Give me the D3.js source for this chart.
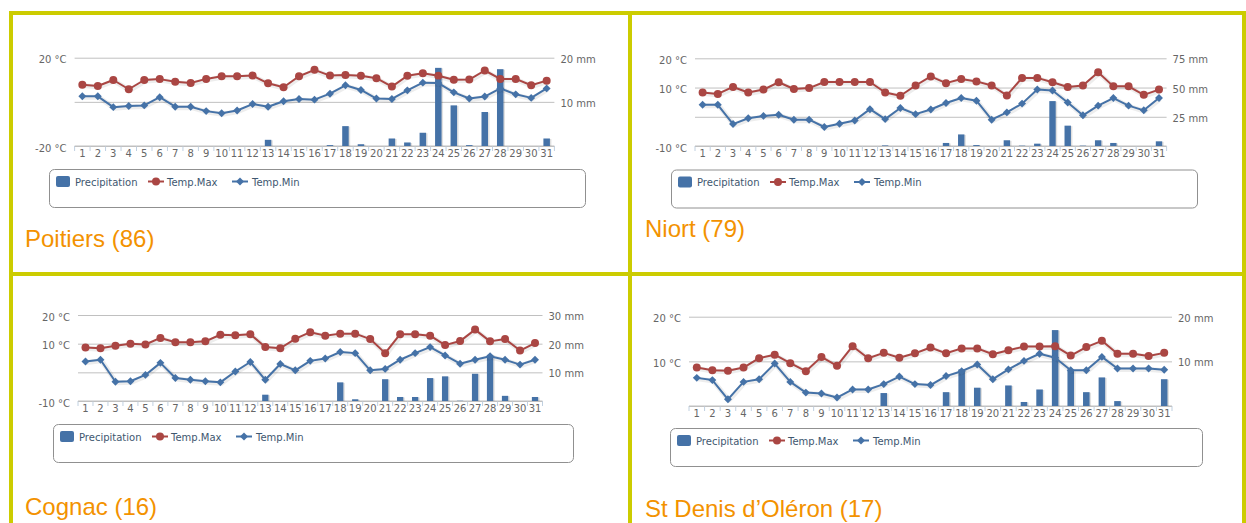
<!DOCTYPE html>
<html><head><meta charset="utf-8">
<script src="https://cdn.jsdelivr.net/npm/d3@7/dist/d3.min.js"></script>
<style>
html,body{margin:0;padding:0;background:#fff;}
svg{display:block;}
text{font-family:"DejaVu Sans",Verdana,sans-serif;}
</style></head><body>
<svg id="c" width="1246" height="523"></svg>
<script>
// ---------- DATA ----------
const days = ["1","2","3","4","5","6","7","8","9","10","11","12","13","14","15","16","17","18","19","20","21","22","23","24","25","26","27","28","29","30","31"];
const seriesNames = ["Precipitation","Temp.Max","Temp.Min"];
const stationNames = ["Poitiers (86)","Niort (79)","Cognac (16)","St Denis d\u2019Oléron (17)"];

const poitiersMax = [7.8,7.2,9.9,5.7,9.9,10.3,9.1,8.5,10.4,11.6,11.6,11.9,8.4,6.6,11.6,14.5,11.9,12.2,11.8,10.7,6.9,11.8,13.0,11.8,10.0,10.1,14.2,10.4,10.4,7.5,9.6];
const poitiersMin = [2.5,2.5,-2.4,-1.9,-1.6,2.1,-2.2,-2.2,-4.2,-5.2,-3.9,-1.0,-2.2,0.3,1.3,1.0,3.7,7.5,5.4,1.5,1.3,5.2,8.7,8.5,4.3,1.5,2.4,6.1,3.4,1.8,6.1];
const poitiersPrecip = [0,0,0,0,0,0,0,0,0,0,0,0,1.4,0,0,0,0.2,4.5,0.4,0,1.7,0.8,3.0,17.7,9.2,0.2,7.7,17.4,0,0,1.7];
const poitiersTempTicks = [-20,0,20];
const poitiersPrecipTicks = [0,10,20];

const niortMax = [8.3,7.8,10.2,8.3,9.3,11.8,9.5,9.8,11.9,11.9,11.9,11.9,8.3,7.2,10.7,13.8,11.5,12.9,12.1,10.7,7.3,13.3,13.3,11.8,10.2,10.7,15.2,10.4,10.4,7.5,9.3];
const niortMin = [4.1,4.1,-2.5,-0.5,0.3,0.7,-1.0,-1.0,-3.5,-2.4,-1.3,2.6,-0.8,3.0,0.9,2.5,4.7,6.4,5.5,-1.0,1.5,4.5,9.3,9.0,4.9,0.5,3.8,6.4,3.8,2.2,6.4];
const niortPrecip = [0,0,0,0,0,0,0,0,0,0,0,0,0.5,0,0,0,2.6,9.9,0.8,0,4.9,0.3,2.0,38.4,17.4,0.3,4.9,2.6,0,0,4.0];
const niortTempTicks = [-10,0,10,20];
const niortPrecipTicks = [0,25,50,75];

const cognacMax = [8.7,8.4,9.3,10.0,9.7,12.0,10.5,10.5,10.8,13.1,12.9,13.3,8.8,8.4,11.7,14.0,12.8,13.5,13.5,11.6,6.7,13.3,13.3,12.8,9.5,10.9,14.9,10.8,11.6,7.6,10.2];
const cognacMin = [3.8,4.4,-3.3,-3.1,-0.9,3.3,-2.0,-2.6,-3.1,-3.5,0.3,3.6,-2.6,2.9,0.7,4.0,4.8,7.1,6.7,0.7,1.2,4.4,6.7,8.8,5.9,3.0,4.4,5.6,4.4,2.7,4.4];
const cognacPrecip = [0,0,0,0,0,0,0,0,0,0,0,0,2.2,0,0,0,0,6.5,0.6,0,7.6,1.4,1.4,8.0,8.6,0.1,9.5,16.1,1.8,0,1.4];
const cognacTempTicks = [-10,0,10,20];
const cognacPrecipTicks = [0,10,20,30];

const stDenisMax = [8.6,8.0,7.9,8.6,10.7,11.5,9.6,7.8,11.0,9.0,13.4,10.7,11.9,10.8,11.8,13.1,11.8,12.9,12.9,11.6,12.5,13.3,13.3,13.4,11.3,13.2,14.6,11.7,11.7,11.2,11.9];
const stDenisMin = [6.3,5.8,1.5,5.4,6.0,9.5,5.4,3.0,2.8,1.9,3.7,3.7,4.9,6.6,4.9,4.7,6.7,7.8,9.3,6.0,8.2,10.1,11.7,10.8,8.0,8.0,11.0,8.4,8.4,8.4,8.1];
const stDenisPrecip = [0,0,0,0,0,0,0,0,0,0,0,0,2.9,0,0,0,3.1,8.2,4.1,0,4.6,0.9,3.7,17.0,7.9,3.1,6.4,1.1,0,0,6.0];
const stDenisTempTicks = [0,10,20];
const stDenisPrecipTicks = [0,10,20];

// ---------- LAYOUT / STYLE ----------
const colors = {bar:"#4572A7", max:"#AA4643", min:"#4572A7", grid:"#C0C0C0", tick:"#C0D0E0",
  label:"#666666", legendText:"#3E576F", title:"#F39200", border:"#CCCC00"};

const panels = [
  {name:stationNames[0], max:poitiersMax, min:poitiersMin, precip:poitiersPrecip, tTicks:poitiersTempTicks, pTicks:poitiersPrecipTicks,
   x0:74.6, x1:554.4, top:57.7, bottom:146, legend:{x:49,y:169,w:536,h:38}, title:{x:25,y:247}},
  {name:stationNames[1], max:niortMax, min:niortMin, precip:niortPrecip, tTicks:niortTempTicks, pTicks:niortPrecipTicks,
   x0:695, x1:1166.6, top:58.3, bottom:146, legend:{x:671,y:169.5,w:526,h:38}, title:{x:645,y:237}},
  {name:stationNames[2], max:cognacMax, min:cognacMin, precip:cognacPrecip, tTicks:cognacTempTicks, pTicks:cognacPrecipTicks,
   x0:78, x1:542.5, top:315, bottom:401, legend:{x:53,y:424,w:520,h:38}, title:{x:25,y:515}},
  {name:stationNames[3], max:stDenisMax, min:stDenisMin, precip:stDenisPrecip, tTicks:stDenisTempTicks, pTicks:stDenisPrecipTicks,
   x0:689, x1:1172, top:316.7, bottom:406, legend:{x:670,y:428,w:532,h:38}, title:{x:645,y:517}}
];

const svg = d3.select("#c");
svg.append("rect").attr("width",1246).attr("height",523).attr("fill","#fff");

const diamond = d3.symbol().type(d3.symbolDiamond2).size(40);

function drawPanel(p){
  const g = svg.append("g");
  const x = d3.scaleBand().domain(days).range([p.x0,p.x1]);
  const cx = d => x(d) + x.bandwidth()/2;
  const yT = d3.scaleLinear().domain(d3.extent(p.tTicks)).range([p.bottom,p.top]);
  const yP = d3.scaleLinear().domain(d3.extent(p.pTicks)).range([p.bottom,p.top]);
  const w = p.x1 - p.x0;

  // left axis + gridlines
  const la = g.append("g").attr("transform",`translate(${p.x0},0)`)
    .call(d3.axisLeft(yT).tickValues(p.tTicks).tickSize(-w).tickPadding(8)
      .tickFormat(d => d === 0 ? "" : d + " °C"));
  la.select(".domain").remove();
  la.selectAll("line").attr("stroke",colors.grid);
  la.selectAll("text").attr("fill",colors.label).attr("font-size","10px").attr("dy","0.5em")
    .style("font-family","'DejaVu Sans',sans-serif");

  // right axis
  const ra = g.append("g").attr("transform",`translate(${p.x1},0)`)
    .call(d3.axisRight(yP).tickValues(p.pTicks).tickSize(0).tickPadding(6)
      .tickFormat(d => d === 0 ? "" : d + " mm"));
  ra.select(".domain").remove();
  ra.selectAll("text").attr("fill",colors.label).attr("font-size","10px").attr("dy","0.45em")
    .style("font-family","'DejaVu Sans',sans-serif");

  // x axis
  const xa = g.append("g").attr("transform",`translate(0,${p.bottom})`)
    .call(d3.axisBottom(x).tickSize(0).tickPadding(3.5));
  xa.select(".domain").remove();
  xa.selectAll("text").attr("fill",colors.label).attr("font-size","10px")
    .style("font-family","'DejaVu Sans',sans-serif");
  g.append("g").selectAll("line").data(days.concat(["end"])).join("line")
    .attr("x1",d => d === "end" ? p.x1 : x(d)).attr("x2",d => d === "end" ? p.x1 : x(d))
    .attr("y1",p.bottom).attr("y2",p.bottom+5).attr("stroke",colors.tick);
  g.append("line").attr("x1",p.x0).attr("x2",p.x1).attr("y1",p.bottom).attr("y2",p.bottom)
    .attr("stroke",colors.grid);

  // columns
  const bw = x.bandwidth()*0.42;
  const bars = g.append("g");
  bars.selectAll("rect.sh").data(days).join("rect").attr("class","sh")
    .attr("x",d => cx(d) - bw/2 + 1.5).attr("width",bw)
    .attr("y",(d,i) => yP(p.precip[i]) + 0.5)
    .attr("height",(d,i) => Math.max(0, p.bottom - yP(p.precip[i]) - 0.5))
    .attr("fill","#000").attr("opacity",0.12);
  bars.selectAll("rect.b").data(days).join("rect").attr("class","b")
    .attr("x",d => cx(d) - bw/2).attr("width",bw)
    .attr("y",(d,i) => yP(p.precip[i]))
    .attr("height",(d,i) => p.bottom - yP(p.precip[i]))
    .attr("fill",colors.bar);

  // lines
  function drawLine(vals, color, marker){
    const line = d3.line().x(d => cx(d)).y((d,i) => yT(vals[i]));
    g.append("path").attr("d",line(days)).attr("fill","none").attr("stroke","#000")
      .attr("stroke-opacity",0.07).attr("stroke-width",5).attr("transform","translate(1,1)")
      .attr("stroke-linejoin","round");
    g.append("path").attr("d",line(days)).attr("fill","none").attr("stroke",color)
      .attr("stroke-width",2).attr("stroke-linejoin","round");
    if(marker === "circle"){
      g.append("g").selectAll("circle").data(days).join("circle")
        .attr("cx",d => cx(d)).attr("cy",(d,i) => yT(vals[i])).attr("r",4).attr("fill",color);
    } else {
      g.append("g").selectAll("path").data(days).join("path")
        .attr("d",diamond).attr("transform",(d,i) => `translate(${cx(d)},${yT(vals[i])})`).attr("fill",color);
    }
  }
  drawLine(p.max, colors.max, "circle");
  drawLine(p.min, colors.min, "diamond");

  // legend
  const L = p.legend;
  const lg = g.append("g").attr("transform",`translate(${L.x},${L.y})`);
  lg.append("rect").attr("x",0.5).attr("y",0.5).attr("width",L.w).attr("height",L.h).attr("rx",5)
    .attr("fill","#fff").attr("stroke","#909090");
  lg.append("rect").attr("x",7).attr("y",7).attr("width",14).attr("height",11).attr("rx",2).attr("fill",colors.bar);
  lg.append("text").attr("x",26).attr("y",16.5).text(seriesNames[0]);
  lg.append("line").attr("x1",99).attr("x2",115).attr("y1",12.5).attr("y2",12.5).attr("stroke",colors.max).attr("stroke-width",2);
  lg.append("circle").attr("cx",107).attr("cy",12.5).attr("r",4).attr("fill",colors.max);
  lg.append("text").attr("x",118).attr("y",16.5).text(seriesNames[1]);
  lg.append("line").attr("x1",183).attr("x2",199).attr("y1",12.5).attr("y2",12.5).attr("stroke",colors.min).attr("stroke-width",2);
  lg.append("path").attr("d",diamond).attr("transform","translate(191,12.5)").attr("fill",colors.min);
  lg.append("text").attr("x",203).attr("y",16.5).text(seriesNames[2]);
  lg.selectAll("text").attr("font-size","10px").attr("fill",colors.legendText);

  // title
  g.append("text").attr("x",p.title.x).attr("y",p.title.y).text(p.name)
    .attr("fill",colors.title).attr("font-size","24px").style("font-family","'Liberation Sans',Arial,sans-serif");
}

panels.forEach(drawPanel);

// frame
const fr = svg.append("g").attr("fill","none").attr("stroke",colors.border).attr("stroke-width",4);
fr.append("line").attr("x1",9).attr("x2",1246).attr("y1",13).attr("y2",13);
fr.append("line").attr("x1",11).attr("x2",11).attr("y1",11).attr("y2",523);
fr.append("line").attr("x1",1244).attr("x2",1244).attr("y1",11).attr("y2",523);
fr.append("line").attr("x1",630).attr("x2",630).attr("y1",11).attr("y2",523);
fr.append("line").attr("x1",9).attr("x2",1246).attr("y1",274).attr("y2",274);
</script>
</body></html>
